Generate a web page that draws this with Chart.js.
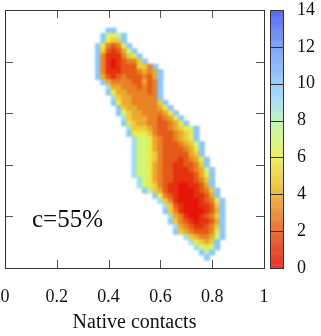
<!DOCTYPE html>
<html><head><meta charset="utf-8">
<script src="https://cdn.jsdelivr.net/npm/chart.js@4.4.1/dist/chart.umd.min.js"></script>
<style>html,body{margin:0;padding:0;background:#fff}</style>
</head><body>
<canvas id="c" width="321" height="336"></canvas>
<script>
// ---- data ----
const xTicks = [0, 0.2, 0.4, 0.6, 0.8, 1];
const yTicks = [0, 0.2, 0.4, 0.6, 0.8, 1];
const cbTicks = [0, 2, 4, 6, 8, 10, 12, 14];
const cellX0 = 0.34;      // x of first grid column
const cellStep = 0.02;    // grid spacing (data units)
// grid rows: y value, first column index, free-energy values (hex digit, 'a' = 10)
const rowY = [0.92,0.90,0.88,0.86,0.84,0.82,0.80,0.78,0.76,0.74,0.72,0.70,0.68,0.66,0.64,0.62,0.60,0.58,0.56,0.54,0.52,0.50,0.48,0.46,0.44,0.42,0.40,0.38,0.36,0.34,0.32,0.30,0.28,0.26,0.24,0.22,0.20,0.18,0.16,0.14,0.12,0.10,0.08,0.06,0.04];
const rowStart = [3,2,2,1,1,1,1,1,1,1,2,3,3,4,4,5,5,6,6,7,7,8,8,8,8,8,8,8,8,9,9,10,12,13,14,14,15,15,16,16,18,19,20,21,22];
const rowVals = [
  "aa",
  "a768a",
  "a655a",
  "a63236a",
  "a521247a",
  "a3111356a",
  "a31012335a",
  "a3101222553a",
  "a31112223434a",
  "a42123222324a",
  "a4333322423a",
  "9443332323a",
  "a644333323a",
  "954433333a",
  "a644333335a",
  "a544333346a",
  "a7544333346a",
  "95444332346a",
  "a65443322346a",
  "9555432234567a",
  "a666532223456a",
  "977643223456a",
  "9776432223457a",
  "9776432222346a",
  "9776532222245a",
  "97765322212346a",
  "97764322112235a",
  "977643221112347a",
  "977643221111246a",
  "97643221111235a",
  "97653211001124a",
  "a8542110001235a",
  "a63210001124a",
  "953100001236a",
  "95210001125a",
  "a5310000124a",
  "9431001235a",
  "a532101124a",
  "943211235a",
  "a54322236a",
  "9543347a",
  "96545a",
  "9767a",
  "a8a",
  "a"
];
const annotation = "c=55%";
const annotationPos = {x: 0.104, y: 0.16};

// ---- colours ----
const stops = [
  [0,[228,22,8]],[1,[228,50,15]],[2,[230,90,25]],[3,[232,130,35]],[4,[234,170,45]],
  [5,[236,205,55]],[6,[234,235,75]],[7,[210,245,120]],[8,[185,240,175]],[9,[160,220,240]],
  [10,[140,198,250]],[12,[110,150,245]],[14,[70,80,240]]
];
function colorFor(v, a) {
  let i = 0;
  while (i < stops.length - 2 && v > stops[i+1][0]) i++;
  const [v0,c0] = stops[i], [v1,c1] = stops[i+1];
  const t = Math.max(0, Math.min(1, (v - v0) / (v1 - v0)));
  const c = c0.map((q,k) => Math.round(q + (c1[k]-q)*t));
  return `rgba(${c[0]},${c[1]},${c[2]},${a == null ? 1 : a})`;
}

const points = [];
rowVals.forEach((s, r) => {
  for (let j = 0; j < s.length; j++) {
    const ch = s[j];
    if (ch === '.') continue;
    points.push({x: +(cellX0 + cellStep*(rowStart[r]+j)).toFixed(2), y: rowY[r], v: parseInt(ch, 16)});
  }
});

const FONT = "'Liberation Serif', serif";

function cellRadius(chart) {
  const xs = chart.scales.x;
  if (!xs) return 3;
  const s = Math.abs(xs.getPixelForValue(cellStep) - xs.getPixelForValue(0));
  return (s + 0.8) / Math.SQRT2;
}

// soften the drawn cell grid (post-process of the chart area only)
const smoothPlugin = {
  id: 'smooth',
  afterDatasetsDraw(chart) {
    const c = chart.canvas, ctx = chart.ctx, a = chart.chartArea;
    const off = document.createElement('canvas');
    off.width = c.width; off.height = c.height;
    off.getContext('2d').drawImage(c, 0, 0);
    ctx.save();
    ctx.setTransform(1, 0, 0, 1, 0, 0);
    ctx.beginPath();
    ctx.rect(a.left, a.top, a.right - a.left, a.bottom - a.top);
    ctx.clip();
    ctx.clearRect(a.left, a.top, a.right - a.left, a.bottom - a.top);
    ctx.fillStyle = '#fff';
    ctx.fillRect(a.left, a.top, a.right - a.left, a.bottom - a.top);
    ctx.filter = 'blur(1.3px)';
    ctx.drawImage(off, 0, 0);
    ctx.restore();
  }
};

const framePlugin = {
  id: 'frame',
  afterDraw(chart) {
    const ctx = chart.ctx, a = chart.chartArea;
    const xs = chart.scales.x, ys = chart.scales.y, cb = chart.scales.cb;
    ctx.save();
    ctx.filter = 'none';
    // inner tick marks
    ctx.strokeStyle = '#555';
    ctx.lineWidth = 1;
    const L = 8;
    ctx.beginPath();
    xTicks.slice(1, -1).forEach(v => {
      const px = Math.round(xs.getPixelForValue(v)) + 0.5;
      ctx.moveTo(px, a.top); ctx.lineTo(px, a.top + L);
      ctx.moveTo(px, a.bottom); ctx.lineTo(px, a.bottom - L);
    });
    yTicks.slice(1, -1).forEach(v => {
      const py = Math.round(ys.getPixelForValue(v)) + 0.5;
      ctx.moveTo(a.left, py); ctx.lineTo(a.left + L, py);
      ctx.moveTo(a.right, py); ctx.lineTo(a.right - L, py);
    });
    ctx.stroke();
    // frame
    ctx.strokeStyle = '#333';
    ctx.strokeRect(Math.round(a.left)+0.5, Math.round(a.top)+0.5, Math.round(a.right-a.left), Math.round(a.bottom-a.top));
    // colour bar
    const bx = Math.round(a.right) + 6, bw = 13;
    const dv = 0.05;
    for (let v = 0; v < 14; v += dv) {
      const y1 = cb.getPixelForValue(v), y2 = cb.getPixelForValue(Math.min(14, v + dv));
      ctx.fillStyle = colorFor(v + dv/2, 0.78);
      ctx.fillRect(bx, y2, bw, y1 - y2 + 0.5);
    }
    ctx.strokeStyle = '#333';
    ctx.beginPath();
    cbTicks.slice(1, -1).forEach(v => {
      const py = Math.round(cb.getPixelForValue(v)) + 0.5;
      ctx.moveTo(bx, py); ctx.lineTo(bx + bw, py);
    });
    ctx.stroke();
    const t = Math.round(cb.getPixelForValue(14)), b = Math.round(cb.getPixelForValue(0));
    ctx.strokeRect(bx + 0.5, t + 0.5, bw, b - t);
    // annotation
    ctx.fillStyle = '#111';
    ctx.font = "normal 25px " + FONT;
    ctx.textBaseline = 'alphabetic';
    ctx.textAlign = 'left';
    ctx.fillText(annotation, xs.getPixelForValue(annotationPos.x), ys.getPixelForValue(annotationPos.y));
    ctx.restore();
  }
};

new Chart(document.getElementById('c'), {
  type: 'scatter',
  data: {
    datasets: [{
      data: points,
      pointStyle: 'rect',
      pointRadius: ctx => cellRadius(ctx.chart),
      pointHoverRadius: ctx => cellRadius(ctx.chart),
      borderWidth: 0,
      pointBorderWidth: 0,
      pointBorderColor: 'rgba(0,0,0,0)',
      backgroundColor: ctx => colorFor(ctx.raw ? ctx.raw.v : 0),
    }]
  },
  options: {
    responsive: false,
    devicePixelRatio: 1,
    animation: false,
    events: [],
    layout: {padding: {left: 5, top: 10, right: 0, bottom: 0}},
    plugins: {legend: {display: false}, tooltip: {enabled: false}},
    scales: {
      x: {
        type: 'linear', min: 0, max: 1,
        afterBuildTicks: s => { s.ticks = xTicks.map(v => ({value: v})); },
        ticks: {
          callback: v => String(+Number(v).toFixed(1)),
          font: {family: FONT, size: 18}, color: '#111', padding: 18, maxRotation: 0
        },
        grid: {display: false, drawTicks: false},
        border: {display: false},
        title: {display: true, text: 'Native contacts', font: {family: FONT, size: 20}, color: '#111', padding: {top: 0, bottom: 1}},
        afterFit: s => { s.height = 68; s.paddingLeft = 0; s.paddingRight = 0; }
      },
      y: {
        type: 'linear', min: 0, max: 1, display: false
      },
      cb: {
        type: 'linear', position: 'right', min: 0, max: 14,
        afterBuildTicks: s => { s.ticks = cbTicks.map(v => ({value: v})); },
        ticks: {font: {family: FONT, size: 18}, color: '#111', padding: 33},
        grid: {drawOnChartArea: false, drawTicks: false},
        border: {display: false},
        afterFit: s => { s.width = 57; s.paddingTop = 0; s.paddingBottom = 0; }
      }
    }
  },
  plugins: [smoothPlugin, framePlugin]
});
</script>
</body></html>
